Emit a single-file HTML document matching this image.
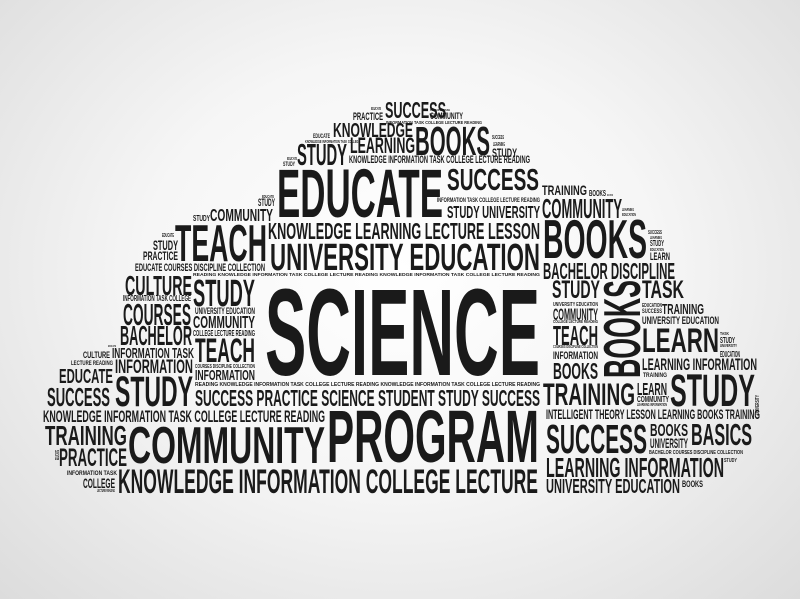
<!DOCTYPE html>
<html><head><meta charset="utf-8">
<style>
html,body{margin:0;padding:0;width:800px;height:599px;overflow:hidden}
body{background:radial-gradient(ellipse at 50% 45%,#ffffff 0%,#f6f6f6 45%,#dcdcdc 100%)}
svg{position:absolute;left:0;top:0}
svg text{font-family:"Liberation Sans Narrow","Liberation Sans",sans-serif;font-weight:bold;fill:#1a1a1a}
</style></head>
<body>
<svg id="cloud" width="800" height="599"></svg>
<script>
// word, x, top, width, capHeight
const words = [
["EDUCATE",371,107,10,3],["PRACTICE",353,112,30,8],["SUCCESS",385,101,61,17],
["PROGRAM DISCIPLINE",430,109,20,2],["COMMUNITY",430,112,33,7],
["INFORMATION TASK COLLEGE LECTURE READING",386,121,96,3],
["KNOWLEDGE",333,122,80,15],["EDUCATE",313,133,17,5],["KNOWLEDGE INFORMATION TASK COLLEGE",305,140,55,3],
["LEARNING",350,137,65,16],["BOOKS",415,125,75,30],["SUCCESS",492,135,12,4],["LEARNING",493,142,12,4],["STUDY",492,148,25,9],
["STUDY",297,143,50,22],["EDUCATE",287,157,10,3],["STUDY",283,161,12,5],
["KNOWLEDGE INFORMATION TASK COLLEGE LECTURE READING",349,155,181,8],
["EDUCATE",277,167,166,50],["SUCCESS",447,168,92,22],["TRAINING",542,185,45,10],["BOOKS",589,190,17,6],["EDUCATION",607,194,6,2],
["INFORMATION TASK COLLEGE LECTURE READING",437,197,103,5],["STUDY UNIVERSITY",447,205,93,13],
["COMMUNITY",542,198,80,20],["LEARNING",622,208,12,3],["EDUCATION",622,213,14,3],
["EDUCATE",262,195,12,3],["STUDY",258,198,17,8],["STUDY",193,215,17,6],["COMMUNITY",210,208,63,13],
["TEACH",175,223,92,38],["KNOWLEDGE LEARNING LECTURE LESSON",268,222,272,17],["UNIVERSITY EDUCATION",270,242,270,28],
["BOOKS",543,218,104,40],["SUCCESS",648,230,14,4],["LEARNING",650,236,12,3],["STUDY",650,240,14,6],["EDUCATION",650,248,14,3],["LEARN",650,252,20,8],
["EDUCATE",162,233,12,4],["STUDY",153,240,25,10],["PRACTICE",143,251,35,9],
["EDUCATE COURSES DISCIPLINE COLLECTION",135,263,130,8],
["READING KNOWLEDGE INFORMATION TASK COLLEGE LECTURE READING KNOWLEDGE INFORMATION TASK COLLEGE LECTURE READING",193,273,347,3],
["BACHELOR DISCIPLINE",543,262,132,17],
["CULTURE",125,275,67,20],["STUDY",193,278,62,28],["INFORMATION TASK COLLEGE",123,295,68,6],
["COURSES",123,303,68,22],["UNIVERSITY EDUCATION",195,307,60,7],["COMMUNITY",193,315,62,13],
["BACHELOR",120,325,72,20],["COLLEGE LECTURE READING",193,330,62,6],["TEACH",195,337,60,25],
["SCIENCE",265,285,275,90],
["STUDY",552,280,48,18],["TASK",642,280,42,18],
["UNIVERSITY EDUCATION",553,302,45,4],["COMMUNITY",553,308,45,12],["COLLEGE LECTURE READING",553,320,45,3],["TEACH",553,325,45,20],
["EDUCATION",642,303,20,4],["SUCCESS",642,308,20,5],["TRAINING",662,303,42,11],["UNIVERSITY EDUCATION",642,316,77,8],
["LEARN",642,327,77,25],["TASK",720,332,9,3],["STUDY",720,337,15,6],["UNIVERSITY",720,344,17,3],["EDUCATION",720,351,20,6],
["COURSES DISCIPLINE COLLECTION",553,345,45,3],["INFORMATION",553,351,45,8],["BOOKS",553,362,45,17],
["LEARNING INFORMATION",642,358,115,12],["TRAINING",643,372,24,5],["LEARN",637,382,30,13],["COMMUNITY",637,396,32,6],["LEARNING INFORMATION",637,403,30,3],
["STUDY",670,373,85,33],["TRAINING",543,382,92,23],
["INTELLIGENT THEORY LESSON LEARNING BOOKS TRAINING",546,409,214,10],
["SUCCESS",546,423,101,30],["BOOKS",650,423,38,13],["UNIVERSITY",650,438,38,10],["BASICS",691,423,61,22],
["BACHELOR COURSES DISCIPLINE COLLECTION",649,450,94,4],["STUDY",724,458,13,4],
["LEARNING INFORMATION",546,457,178,20],["UNIVERSITY EDUCATION",546,478,134,15],["BOOKS",682,480,21,7],
["EDUCATE",108,345,8,2],["CULTURE",83,351,27,7],["INFORMATION TASK",112,347,82,11],
["LECTURE READING",71,360,42,5],["INFORMATION",115,359,78,14],["EDUCATE",59,368,54,15],["STUDY",115,375,78,31],
["COURSES DISCIPLINE COLLECTION",195,364,60,4],["INFORMATION",195,369,60,11],
["READING KNOWLEDGE INFORMATION TASK COLLEGE LECTURE READING KNOWLEDGE INFORMATION TASK COLLEGE LECTURE READING",195,382,345,4],
["SUCCESS",47,387,63,19],["SUCCESS PRACTICE SCIENCE STUDENT STUDY SUCCESS",195,389,345,17],
["KNOWLEDGE INFORMATION TASK COLLEGE LECTURE READING",43,410,282,12],
["TRAINING",45,425,82,20],["COMMUNITY",128,425,197,38],["PROGRAM",327,408,212,54],
["PRACTICE",59,448,68,18],["INFORMATION TASK",67,470,50,5],["COLLEGE",83,478,32,10],["LECTURE READING",97,489,18,3],
["KNOWLEDGE INFORMATION COLLEGE LECTURE",118,468,420,25]
];
// rotated words: word, x (left of box), top, boxWidth(capHeight), length
const rotated = [["BOOKS",602,280,38,98],["EDUCATE",55,450,4,10],["UNIVERSITY",755,395,4,20]];

const svg = document.getElementById('cloud');
const NS = 'http://www.w3.org/2000/svg';
words.forEach(w => {
  const t = document.createElementNS(NS,'text');
  
  
  t.setAttribute('x', w[1]);
  t.setAttribute('y', w[2] + w[4]);
  t.setAttribute('font-size', (w[4] / 0.73).toFixed(2));
  t.setAttribute('textLength', w[3]);
  t.setAttribute('lengthAdjust', 'spacingAndGlyphs');
  t.textContent = w[0];
  svg.appendChild(t);
});
rotated.forEach(w => {
  const t = document.createElementNS(NS,'text');
  
  
  const bx = w[1] + w[3], by = w[2] + w[4];
  t.setAttribute('x', 0);
  t.setAttribute('y', 0);
  t.setAttribute('transform', 'translate(' + bx + ',' + by + ') rotate(-90)');
  t.setAttribute('font-size', (w[3] / 0.73).toFixed(2));
  t.setAttribute('textLength', w[4]);
  t.setAttribute('lengthAdjust', 'spacingAndGlyphs');
  t.textContent = w[0];
  svg.appendChild(t);
});
</script>
</body></html>
